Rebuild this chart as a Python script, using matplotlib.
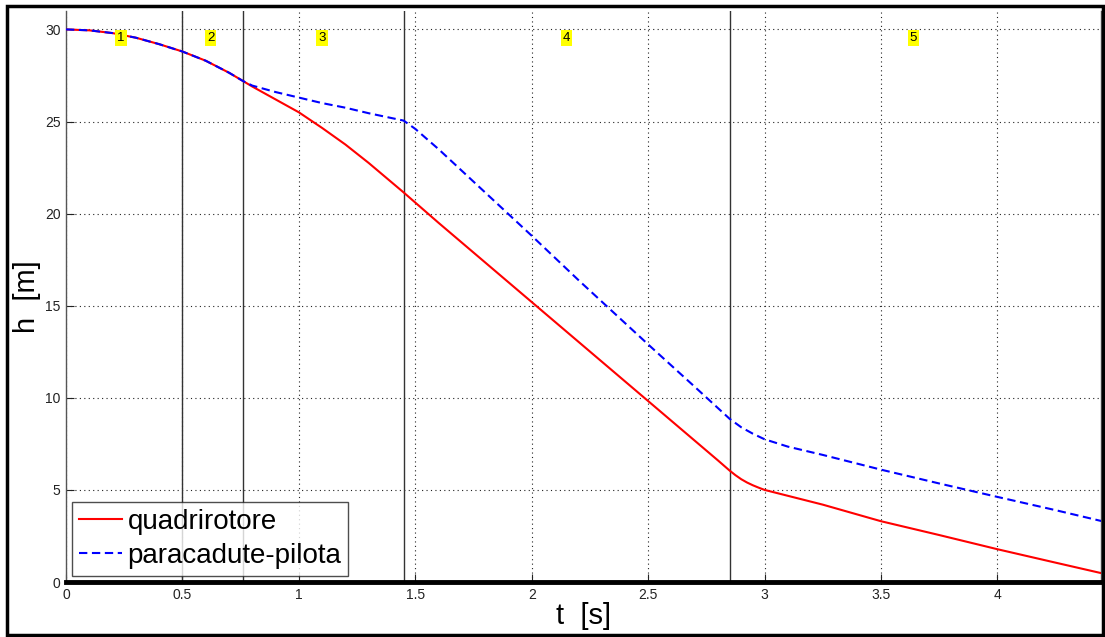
import matplotlib
matplotlib.use("Agg")
import matplotlib.pyplot as plt
from matplotlib.patches import Rectangle

plt.rcParams['font.family'] = ['Liberation Sans', 'DejaVu Sans']

# quadrirotore (red, solid)
t_quad = [0.0, 0.1, 0.2, 0.3, 0.4, 0.5, 0.6, 0.7, 0.76, 0.8, 0.9, 1.0, 1.1, 1.2, 1.3,
          1.45, 1.6, 1.8, 2.0, 2.2, 2.4, 2.6, 2.8, 2.85, 2.875, 2.9, 2.925, 2.95, 2.975,
          3.0, 3.1, 3.25, 3.5, 3.75, 4.0, 4.25, 4.45]
h_quad = [30.0, 29.95, 29.8, 29.55, 29.2, 28.8, 28.3, 27.65, 27.2, 26.9, 26.2, 25.5,
          24.65, 23.75, 22.75, 21.15, 19.5, 17.35, 15.2, 13.05, 10.9, 8.75, 6.6, 6.05,
          5.8, 5.58, 5.4, 5.25, 5.12, 5.0, 4.68, 4.2, 3.3, 2.55, 1.78, 1.05, 0.47]

# paracadute-pilota (blue, dashed)
t_para = [0.0, 0.1, 0.2, 0.3, 0.4, 0.5, 0.6, 0.7, 0.76, 0.8, 0.9, 1.0, 1.1, 1.2, 1.3,
          1.45, 1.5, 1.6, 1.8, 2.0, 2.2, 2.32, 2.5, 2.7, 2.85, 2.9, 2.95, 3.0, 3.1, 3.25,
          3.5, 3.75, 4.0, 4.25, 4.45]
h_para = [30.0, 29.95, 29.8, 29.55, 29.2, 28.8, 28.3, 27.65, 27.2, 26.95, 26.6, 26.3,
          26.0, 25.75, 25.45, 25.05, 24.6, 23.5, 21.15, 18.8, 16.4, 15.0, 12.9, 10.6,
          8.86, 8.4, 8.05, 7.75, 7.35, 6.9, 6.1, 5.35, 4.62, 3.9, 3.3]

phase_bounds = [0.5, 0.76, 1.45, 2.85]
phase_labels = ['1', '2', '3', '4', '5']
phase_label_x = [0.236, 0.622, 1.10, 2.15, 3.64]

xticks = [0, 0.5, 1, 1.5, 2, 2.5, 3, 3.5, 4]
xticklabels = ['0', '0.5', '1', '1.5', '2', '2.5', '3', '3.5', '4']
yticks = [0, 5, 10, 15, 20, 25, 30]

fig = plt.figure(figsize=(11.05, 6.37), dpi=100)
ax = fig.add_axes([66/1105, 1-582/637, 1035/1105, 571/637])

ax.plot(t_quad, h_quad, color='red', lw=1.5, label='quadrirotore', zorder=3)
ax.plot(t_para, h_para, color='blue', lw=1.5, ls=(0, (4, 2.2)), label='paracadute-pilota', zorder=4)

for xb in phase_bounds:
    ax.axvline(xb, color='#333333', lw=1.0, zorder=2)

for lbl, xl in zip(phase_labels, phase_label_x):
    ax.text(xl, 29.55, lbl, fontsize=9.5, ha='center', va='center',
            bbox=dict(boxstyle='square,pad=0.15', facecolor='yellow', edgecolor='none'),
            zorder=5)

ax.set_xlim(0, 4.445)
ax.set_ylim(0, 31)
ax.set_xticks(xticks)
ax.set_xticklabels(xticklabels)
ax.set_yticks(yticks)
ax.tick_params(direction='in', length=6, labelsize=10, colors='#222222', width=0.8, pad=4)
ax.grid(True, ls=(0, (1, 3)), color='#222222', lw=0.8)
ax.set_axisbelow(True)

for s in ['left', 'right', 'top']:
    ax.spines[s].set_color('#555555')
    ax.spines[s].set_linewidth(1.0)
ax.spines['top'].set_visible(False)
ax.spines['bottom'].set_color('black')
ax.spines['bottom'].set_linewidth(3.5)

ax.set_xlabel('t  [s]', fontsize=21, labelpad=0)
ax.set_ylabel('h  [m]', fontsize=21, labelpad=3)

leg = ax.legend(loc='lower left', fontsize=20, frameon=True, fancybox=False,
                edgecolor='#222222', borderpad=0.25, handlelength=1.55,
                handletextpad=0.2, borderaxespad=0.22, labelspacing=0.3)
leg.get_frame().set_linewidth(1.0)

fig.patches.append(Rectangle((7/1105, 2/637), 1096/1105, 629/637,
                             transform=fig.transFigure, fill=False,
                             edgecolor='black', lw=2.5))

fig.savefig('out.png', dpi=100)
